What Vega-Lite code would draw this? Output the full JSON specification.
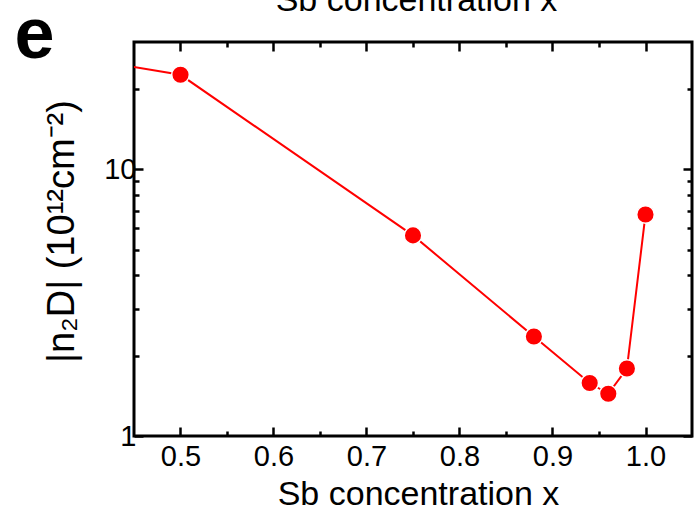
{
  "$schema": "https://vega.github.io/schema/vega-lite/v6.json",
  "width": 558,
  "height": 394,
  "autosize": "none",
  "padding": {"left": 134, "top": 42, "right": 2, "bottom": 78},
  "config": {
    "view": {"stroke": "black", "strokeWidth": 3},
    "font": "Liberation Sans",
    "axis": {
      "grid": false,
      "domain": false,
      "tickColor": "black",
      "tickWidth": 2.5,
      "labelColor": "black",
      "titleColor": "black",
      "labelFont": "Liberation Sans",
      "titleFont": "Liberation Sans",
      "titleFontWeight": "normal",
      "labelFontSize": 29
    }
  },
  "data": {
    "values": [
      {"x": 0.4, "n": 25.9},
      {"x": 0.5, "n": 22.6},
      {"x": 0.75, "n": 5.65},
      {"x": 0.88, "n": 2.36},
      {"x": 0.94, "n": 1.58},
      {"x": 0.96, "n": 1.44},
      {"x": 0.98, "n": 1.79},
      {"x": 1.0, "n": 6.77}
    ]
  },
  "layer": [
    {
      "mark": {"type": "line", "color": "#ff0000", "strokeWidth": 2, "clip": true},
      "encoding": {
        "x": {
          "field": "x", "type": "quantitative",
          "scale": {"domain": [0.45, 1.05], "nice": false, "zero": false},
          "axis": {
            "orient": "bottom",
            "values": [0.5, 0.6, 0.7, 0.8, 0.9, 1.0],
            "format": ".1f",
            "tickSize": -9,
            "labelPadding": 15,
            "labelFlush": false,
            "title": "Sb concentration x",
            "titleFontSize": 34,
            "titleX": 284,
            "titleY": 68,
            "titleBaseline": "alphabetic",
            "titleAlign": "center",
            "titleAnchor": null
          }
        },
        "y": {
          "field": "n", "type": "quantitative",
          "scale": {"type": "log", "domain": [1, 30], "nice": false},
          "axis": {
            "orient": "left",
            "values": [1, 10],
            "format": "d",
            "tickSize": -9,
            "labelPadding": 7,
            "labelFlush": false,
            "title": "|n₂D|  (10¹²cm⁻²)",
            "titleFontSize": 38,
            "titleAngle": 270,
            "titleX": -61,
            "titleY": 189,
            "titleBaseline": "alphabetic",
            "titleAlign": "center"
          }
        }
      }
    },
    {
      "mark": {"type": "point", "filled": true, "color": "#ff0000", "opacity": 1, "size": 310, "stroke": "white", "strokeWidth": 1.5, "clip": true},
      "encoding": {
        "x": {
          "field": "x", "type": "quantitative",
          "axis": {
            "orient": "top",
            "values": [0.5, 0.6, 0.7, 0.8, 0.9, 1.0],
            "labels": false,
            "tickSize": -9,
            "title": "Sb concentration x",
            "titleFontSize": 34,
            "titleX": 282,
            "titleY": -32,
            "titleBaseline": "alphabetic",
            "titleAlign": "center"
          }
        },
        "y": {
          "field": "n", "type": "quantitative",
          "axis": {
            "orient": "right",
            "values": [1, 10],
            "labels": false,
            "tickSize": -9,
            "title": null
          }
        }
      }
    },
    {
      "mark": {"type": "point", "opacity": 0, "clip": true},
      "encoding": {
        "x": {
          "field": "x", "type": "quantitative",
          "axis": {
            "orient": "bottom",
            "values": [0.55, 0.65, 0.75, 0.85, 0.95],
            "labels": false,
            "tickSize": -5,
            "title": null
          }
        },
        "y": {
          "field": "n", "type": "quantitative",
          "axis": {
            "orient": "left",
            "values": [2, 3, 4, 5, 6, 7, 8, 9, 20],
            "labels": false,
            "tickSize": -5,
            "title": null
          }
        }
      }
    },
    {
      "mark": {"type": "point", "opacity": 0, "clip": true},
      "encoding": {
        "x": {
          "field": "x", "type": "quantitative",
          "axis": {
            "orient": "top",
            "values": [0.55, 0.65, 0.75, 0.85, 0.95],
            "labels": false,
            "tickSize": -5,
            "title": "e",
            "titleFontSize": 72,
            "titleFontWeight": "bold",
            "titleX": -120,
            "titleY": 15,
            "titleAlign": "left",
            "titleBaseline": "alphabetic"
          }
        },
        "y": {
          "field": "n", "type": "quantitative",
          "axis": {
            "orient": "right",
            "values": [2, 3, 4, 5, 6, 7, 8, 9, 20],
            "labels": false,
            "tickSize": -5,
            "title": null
          }
        }
      }
    }
  ],
  "resolve": {"axis": {"x": "independent", "y": "independent"}}
}
